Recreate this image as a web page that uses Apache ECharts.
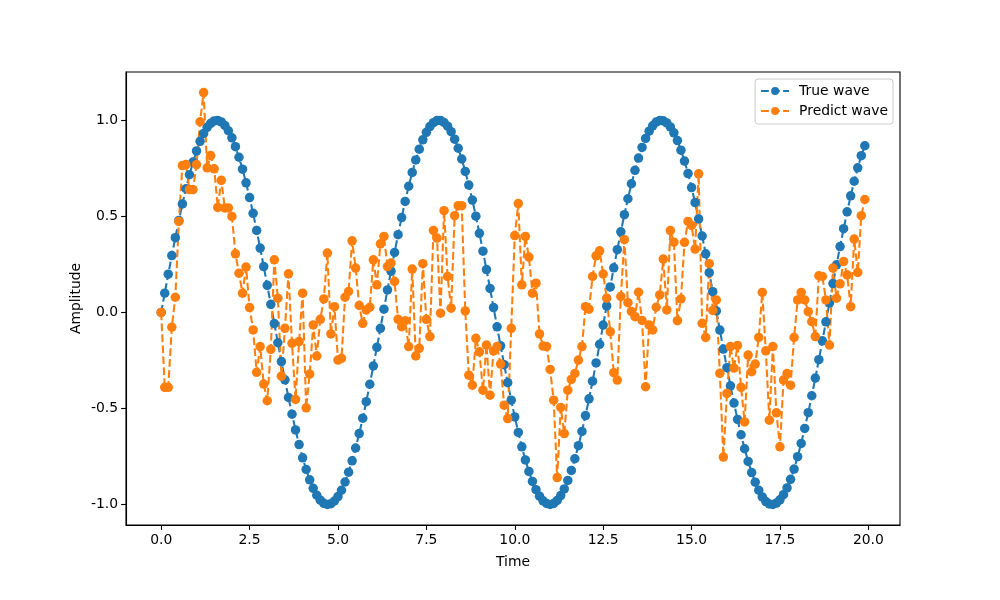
<!DOCTYPE html>
<html>
<head>
<meta charset="utf-8">
<script src="https://cdn.jsdelivr.net/npm/echarts@6/dist/echarts.min.js"></script>
<style>html,body{margin:0;padding:0;background:#fff}#c{width:1000px;height:600px}</style>
</head>
<body>
<div id="c"></div>
<script>
const time = [0.0,0.1,0.2,0.3,0.4,0.5,0.6,0.7,0.8,0.9,1.0,1.1,1.2,1.3,1.4,1.5,1.6,1.7,1.8,1.9,
2.0,2.1,2.2,2.3,2.4,2.5,2.6,2.7,2.8,2.9,3.0,3.1,3.2,3.3,3.4,3.5,3.6,3.7,3.8,3.9,
4.0,4.1,4.2,4.3,4.4,4.5,4.6,4.7,4.8,4.9,5.0,5.1,5.2,5.3,5.4,5.5,5.6,5.7,5.8,5.9,
6.0,6.1,6.2,6.3,6.4,6.5,6.6,6.7,6.8,6.9,7.0,7.1,7.2,7.3,7.4,7.5,7.6,7.7,7.8,7.9,
8.0,8.1,8.2,8.3,8.4,8.5,8.6,8.7,8.8,8.9,9.0,9.1,9.2,9.3,9.4,9.5,9.6,9.7,9.8,9.9,
10.0,10.1,10.2,10.3,10.4,10.5,10.6,10.7,10.8,10.9,11.0,11.1,11.2,11.3,11.4,11.5,11.6,11.7,11.8,11.9,
12.0,12.1,12.2,12.3,12.4,12.5,12.6,12.7,12.8,12.9,13.0,13.1,13.2,13.3,13.4,13.5,13.6,13.7,13.8,13.9,
14.0,14.1,14.2,14.3,14.4,14.5,14.6,14.7,14.8,14.9,15.0,15.1,15.2,15.3,15.4,15.5,15.6,15.7,15.8,15.9,
16.0,16.1,16.2,16.3,16.4,16.5,16.6,16.7,16.8,16.9,17.0,17.1,17.2,17.3,17.4,17.5,17.6,17.7,17.8,17.9,
18.0,18.1,18.2,18.3,18.4,18.5,18.6,18.7,18.8,18.9,19.0,19.1,19.2,19.3,19.4,19.5,19.6,19.7,19.8,19.9];

const trueWave = [0.000,0.100,0.199,0.296,0.389,0.479,0.565,0.644,0.717,0.783,
0.841,0.891,0.932,0.964,0.985,0.997,1.000,0.992,0.974,0.946,
0.909,0.863,0.808,0.746,0.675,0.598,0.516,0.427,0.335,0.239,
0.141,0.042,-0.058,-0.158,-0.256,-0.351,-0.443,-0.530,-0.612,-0.688,
-0.757,-0.818,-0.872,-0.916,-0.952,-0.978,-0.994,-1.000,-0.996,-0.982,
-0.959,-0.926,-0.883,-0.832,-0.773,-0.706,-0.631,-0.551,-0.465,-0.374,
-0.279,-0.182,-0.083,0.017,0.117,0.215,0.312,0.405,0.494,0.578,
0.657,0.729,0.794,0.850,0.899,0.938,0.968,0.988,0.999,0.999,
0.989,0.970,0.941,0.902,0.855,0.799,0.734,0.663,0.585,0.501,
0.412,0.319,0.223,0.125,0.025,-0.075,-0.174,-0.272,-0.366,-0.457,
-0.544,-0.625,-0.700,-0.768,-0.828,-0.880,-0.923,-0.957,-0.981,-0.995,
-1.000,-0.995,-0.979,-0.954,-0.919,-0.875,-0.823,-0.762,-0.694,-0.620,
-0.537,-0.450,-0.358,-0.263,-0.166,-0.066,0.034,0.133,0.232,0.327,
0.420,0.509,0.592,0.670,0.740,0.804,0.859,0.906,0.944,0.972,
0.991,0.999,0.998,0.987,0.966,0.935,0.895,0.845,0.788,0.723,
0.650,0.572,0.487,0.398,0.305,0.207,0.108,0.008,-0.092,-0.191,
-0.288,-0.382,-0.472,-0.557,-0.637,-0.710,-0.776,-0.834,-0.884,-0.926,
-0.961,-0.985,-0.997,-1.000,-0.993,-0.976,-0.949,-0.914,-0.869,-0.816,
-0.751,-0.682,-0.604,-0.522,-0.434,-0.342,-0.246,-0.148,-0.049,0.050,
0.150,0.248,0.343,0.436,0.524,0.607,0.683,0.753,0.816,0.868];

const predictWave = [0.0,-0.39,-0.39,-0.077,0.079,0.474,0.765,0.77,0.64,0.64,
0.77,0.993,1.145,0.753,0.817,0.748,0.547,0.688,0.544,0.544,
0.50,0.305,0.204,0.10,0.236,0.025,-0.091,-0.312,-0.178,-0.373,
-0.46,-0.192,0.274,0.074,-0.332,-0.083,0.201,-0.161,-0.453,-0.152,
0.10,-0.497,-0.321,-0.065,-0.227,-0.036,0.07,0.309,-0.112,0.03,
-0.248,-0.239,0.079,0.109,0.373,0.231,0.036,-0.057,0.013,0.027,
0.274,0.144,0.357,0.396,0.239,0.257,0.161,-0.036,-0.074,-0.043,
-0.178,0.226,-0.227,-0.187,0.254,-0.036,-0.126,0.427,0.387,-0.004,
0.53,0.187,0.022,0.504,0.556,0.556,0.008,-0.327,-0.379,-0.135,
-0.205,-0.405,-0.17,-0.431,-0.2,-0.178,-0.269,-0.483,-0.553,-0.083,
0.40,0.567,0.144,0.396,0.288,0.10,0.152,-0.112,-0.175,-0.178,
-0.297,-0.457,-0.86,-0.495,-0.631,-0.405,-0.349,-0.318,-0.248,-0.178,
0.03,0.017,0.187,0.295,0.321,0.2,0.074,-0.1,-0.314,-0.352,
0.083,0.379,0.051,0.005,-0.022,0.105,-0.042,-0.387,-0.065,-0.091,
0.027,0.091,0.278,0.013,0.426,0.366,-0.043,0.07,0.365,0.474,
0.453,0.33,0.722,-0.057,-0.13,0.254,0.01,0.065,-0.317,-0.753,
-0.422,-0.178,-0.29,-0.172,-0.39,-0.57,-0.222,-0.309,-0.269,-0.13,
0.104,-0.2,-0.561,-0.178,-0.523,-0.70,-0.352,-0.318,-0.379,-0.13,
0.065,0.104,0.065,0.004,-0.048,-0.126,0.191,0.187,0.065,-0.17,
0.231,0.074,0.149,0.265,0.196,0.03,0.382,0.208,0.504,0.588];

const xTicks = [0, 2.5, 5, 7.5, 10, 12.5, 15, 17.5, 20];
const yTicks = [-1, -0.5, 0, 0.5, 1];
const seriesNames = ['True wave', 'Predict wave'];
const colors = ['#1f77b4', '#ff7f0e'];

const FONT = 'DejaVu Sans';
const fmt = v => (v < 0 ? '-' : '') + Math.abs(v).toFixed(1);

const chart = echarts.init(document.getElementById('c'), null, {renderer: 'canvas'});
const pairs = arr => time.map((t, i) => [t, arr[i]]);
const lineSeries = (name, arr, color) => ({
  name: name, type: 'line', data: pairs(arr),
  symbol: 'circle', symbolSize: 9.5, showSymbol: true,
  lineStyle: {color: color, width: 2.08, type: [7.7, 3.3]},
  itemStyle: {color: color, borderWidth: 0},
  emphasis: {disabled: true}, animation: false
});

chart.setOption({
  animation: false,
  backgroundColor: '#fff',
  textStyle: {fontFamily: FONT},
  grid: {left: 126, right: 100, top: 72, bottom: 75, show: true, borderColor: '#000', borderWidth: 1.1, backgroundColor: 'transparent'},
  legend: {
    orient: 'vertical', right: 107, top: 79,
    data: seriesNames,
    itemWidth: 28, itemHeight: 10, itemGap: 6,
    padding: [5, 5, 6, 5],
    borderColor: '#cccccc', borderWidth: 1, borderRadius: 3,
    backgroundColor: 'rgba(255,255,255,0.8)',
    textStyle: {fontFamily: FONT, fontSize: 13.9, color: '#000', lineHeight: 14, padding: [0, 0, 0, 5]}
  },
  xAxis: {
    type: 'value', min: -0.995, max: 20.895,
    name: 'Time', nameLocation: 'middle', nameGap: 30, nameMoveOverlap: false,
    nameTextStyle: {fontFamily: FONT, fontSize: 13.9, color: '#000'},
    axisLine: {show: true, onZero: false, lineStyle: {color: '#000', width: 1.1}},
    axisTick: {show: true, length: 4.9, lineStyle: {color: '#000', width: 1.1}, customValues: xTicks},
    axisLabel: {fontFamily: FONT, fontSize: 13.9, color: '#000', margin: 8, customValues: xTicks, formatter: fmt},
    splitLine: {show: false}
  },
  yAxis: {
    type: 'value', min: -1.107, max: 1.252,
    name: 'Amplitude', nameLocation: 'middle', nameGap: 43, nameRotate: 90, nameMoveOverlap: false,
    nameTextStyle: {fontFamily: FONT, fontSize: 13.9, color: '#000'},
    axisLine: {show: true, onZero: false, lineStyle: {color: '#000', width: 1.1}},
    axisTick: {show: true, length: 4.9, lineStyle: {color: '#000', width: 1.1}, customValues: yTicks},
    axisLabel: {fontFamily: FONT, fontSize: 13.9, color: '#000', margin: 8, customValues: yTicks, formatter: fmt},
    splitLine: {show: false}
  },
  series: [
    lineSeries(seriesNames[0], trueWave, colors[0]),
    lineSeries(seriesNames[1], predictWave, colors[1])
  ]
});
</script>
</body>
</html>
